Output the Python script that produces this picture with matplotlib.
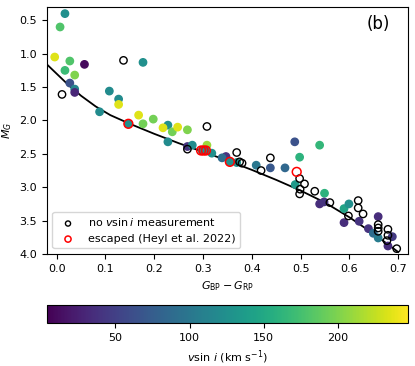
import matplotlib.pyplot as plt
import matplotlib as mpl

# isochrone
iso_color = [-0.02, 0.0, 0.02, 0.05, 0.08, 0.11, 0.15, 0.20, 0.25, 0.30,
             0.35, 0.40, 0.45, 0.50, 0.55, 0.60, 0.65, 0.70]
iso_mag = [1.16, 1.30, 1.44, 1.63, 1.79, 1.92, 2.05, 2.20, 2.34, 2.47,
           2.60, 2.74, 2.89, 3.05, 3.23, 3.45, 3.70, 3.97]

# stars with vsini
bp_rp = [0.017, 0.007, -0.004, 0.027, 0.057, 0.177, 0.017, 0.037, 0.027, 0.037,
         0.037, 0.108, 0.127, 0.127, 0.088, 0.168, 0.198, 0.147, 0.177, 0.228,
         0.218, 0.237, 0.248, 0.268, 0.228, 0.268, 0.278, 0.308, 0.298, 0.305,
         0.318, 0.347, 0.339, 0.355, 0.369, 0.409, 0.438, 0.468, 0.488, 0.539,
         0.498, 0.489, 0.549, 0.539, 0.548, 0.589, 0.599, 0.589, 0.620, 0.659,
         0.639, 0.649, 0.659, 0.688, 0.679]
mg = [0.40, 0.60, 1.05, 1.11, 1.16, 1.13, 1.25, 1.32, 1.44, 1.53,
      1.58, 1.56, 1.68, 1.76, 1.87, 1.92, 1.98, 2.05, 2.05, 2.07,
      2.11, 2.17, 2.10, 2.14, 2.32, 2.39, 2.37, 2.37, 2.45, 2.45,
      2.49, 2.54, 2.56, 2.62, 2.63, 2.67, 2.71, 2.71, 2.32, 2.37,
      2.55, 2.96, 3.09, 3.25, 3.22, 3.32, 3.25, 3.53, 3.51, 3.44,
      3.62, 3.69, 3.76, 3.74, 3.88]
vsini = [125, 180, 235, 180, 10, 125, 170, 200, 65, 115,
         30, 120, 120, 235, 120, 235, 195, 125, 195, 125,
         235, 195, 235, 200, 120, 40, 120, 210, 130, 125,
         125, 40, 90, 125, 125, 100, 70, 85, 65, 165,
         160, 135, 160, 35, 40, 145, 125, 35, 40, 35,
         40, 90, 105, 45, 35]

# stars without vsini
nov_color = [0.011, 0.137, 0.308, 0.268, 0.369, 0.375, 0.380, 0.419, 0.438, 0.498,
             0.508, 0.499, 0.498, 0.529, 0.560, 0.618, 0.618, 0.628, 0.598, 0.659,
             0.659, 0.659, 0.679, 0.679, 0.677, 0.697]
nov_mag = [1.61, 1.10, 2.09, 2.43, 2.48, 2.62, 2.64, 2.75, 2.56, 2.87,
           2.95, 3.03, 3.10, 3.06, 3.23, 3.20, 3.31, 3.40, 3.43, 3.56,
           3.61, 3.66, 3.63, 3.72, 3.80, 3.92]

# escaped stars
esc_color = [0.147, 0.296, 0.301, 0.306, 0.355, 0.492]
esc_mag = [2.05, 2.45, 2.45, 2.45, 2.62, 2.77]

plt.rcParams['font.size'] = 8

fig = plt.figure(figsize=(4.15, 3.66), dpi=100)
ax = fig.add_axes([0.113, 0.306, 0.870, 0.675])
cax = fig.add_axes([0.113, 0.117, 0.870, 0.049])

ax.plot(iso_color, iso_mag, color='black', lw=1.3, zorder=1)
sc = ax.scatter(bp_rp, mg, c=vsini, cmap='viridis', vmin=4, vmax=247,
                s=28, zorder=2)
ax.scatter(nov_color, nov_mag, facecolors='none', edgecolors='black',
           s=28, lw=1.0, zorder=3, label=r'no $v \sin i$ measurement')
ax.scatter(esc_color, esc_mag, facecolors='none', edgecolors='red',
           s=40, lw=1.1, zorder=4, label='escaped (Heyl et al. 2022)')

ax.set_xlim(-0.02, 0.72)
ax.set_ylim(4.0, 0.3)
ax.set_xlabel(r'$G_{\rm BP} - G_{\rm RP}$')
ax.set_ylabel(r'$M_G$')
ax.text(0.95, 0.93, '(b)', transform=ax.transAxes, fontsize=12,
        ha='right', va='center')
ax.legend(loc='lower left', markerscale=0.7, fontsize=8)

cb = fig.colorbar(sc, cax=cax, orientation='horizontal')
cb.set_label(r'$v \sin\, i$ (km s$^{-1}$)')
cb.set_ticks([50, 100, 150, 200])

fig.savefig('out.png', dpi=100)
